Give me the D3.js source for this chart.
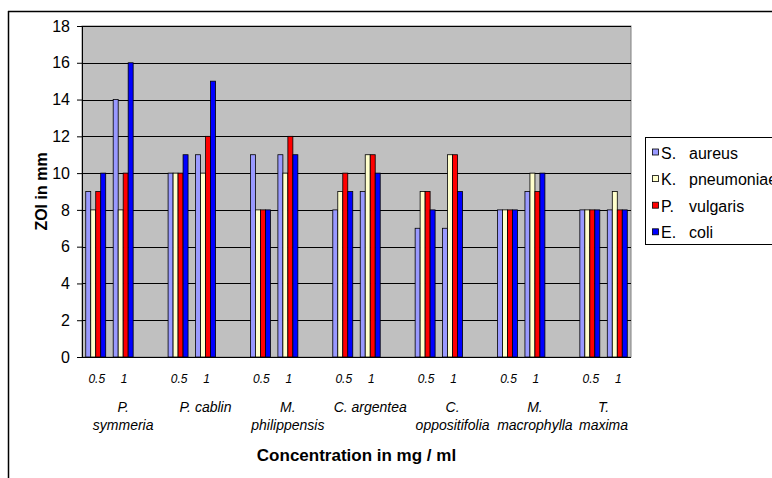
<!DOCTYPE html>
<html><head><meta charset="utf-8">
<script src="https://cdn.jsdelivr.net/npm/d3@7"></script>
<style>
html,body{margin:0;padding:0;background:#fff;overflow:hidden}
text{font-family:"Liberation Sans",Arial,sans-serif}
</style></head>
<body><svg id="c" width="772" height="478"></svg>
<script>
const speciesLabels = [["P.","symmeria"],["P. cablin"],["M.","philippensis"],["C. argentea"],["C.","oppositifolia"],["M.","macrophylla"],["T.","maxima"]];
const concentrations = ["0.5","1"];
const seriesNames = ["S. aureus","K. pneumoniae","P. vulgaris","E. coli"];
const seriesColors = ["#9999FF","#FFFFCC","#FF0000","#0000FF"];
// values in order: species1 0.5, species1 1, species2 0.5, ...
const sAureus     = [9,14,10,11,11,11,8,9,7,7,8,9,8,8];
const kPneumoniae = [8,8,10,10,8,10,9,11,9,11,8,10,8,9];
const pVulgaris   = [9,10,10,12,8,12,10,11,9,11,8,9,8,8];
const eColi       = [10,16,11,15,8,11,9,10,8,9,8,10,8,8];
const yTicks = [0,2,4,6,8,10,12,14,16,18];

const seriesValues = [sAureus,kPneumoniae,pVulgaris,eColi];
const svg = d3.select("#c");
const L=82, R=631, T=26, B=357;

// outer chart border
svg.append("line").attr("x1",8).attr("x2",772).attr("y1",11.5).attr("y2",11.5).attr("stroke","#000").attr("stroke-width",1.5);
svg.append("line").attr("x1",8.5).attr("x2",8.5).attr("y1",11).attr("y2",478).attr("stroke","#000").attr("stroke-width",1.5);

// categories with gap slots between species
const cats=[];
speciesLabels.forEach((s,i)=>{
  concentrations.forEach(c=>cats.push(i+"|"+c));
  if(i<speciesLabels.length-1) cats.push(i+"|gap");
});
const x0 = d3.scaleBand().domain(cats).range([L,R]).padding(0);
const x1 = d3.scaleBand().domain(seriesNames).range([0,x0.bandwidth()]).paddingInner(0).paddingOuter(0.75);
const y = d3.scaleLinear().domain([0,18]).range([B,T]);

// plot area
svg.append("rect").attr("x",L).attr("y",T).attr("width",R-L).attr("height",B-T).attr("fill","#C0C0C0").attr("stroke","#808080").attr("stroke-width",1);

// gridlines
svg.append("g").selectAll("line").data(yTicks.filter(v=>v>0)).join("line")
  .attr("x1",L).attr("x2",R).attr("y1",d=>Math.round(y(d))+0.5).attr("y2",d=>Math.round(y(d))+0.5)
  .attr("stroke","#000").attr("stroke-width",1);

// data rows
const rows=[];
speciesLabels.forEach((s,i)=>concentrations.forEach((c,j)=>{
  const idx=i*2+j;
  seriesNames.forEach((n,k)=>rows.push({cat:i+"|"+c,series:n,k,v:seriesValues[k][idx]}));
}));
svg.append("g").selectAll("rect").data(rows).join("rect")
  .attr("x",d=>x0(d.cat)+x1(d.series))
  .attr("y",d=>y(d.v))
  .attr("width",x1.bandwidth())
  .attr("height",d=>y(0)-y(d.v))
  .attr("fill",d=>seriesColors[d.k])
  .attr("stroke","#000").attr("stroke-width",0.8);

// y axis
const ya = svg.append("g").attr("transform",`translate(${L},0)`)
  .call(d3.axisLeft(y).tickValues(yTicks).tickSize(5).tickPadding(7).tickFormat(d3.format("d")));
ya.select(".domain").attr("stroke","#000");
ya.selectAll("text").attr("font-size",16).attr("fill","#000").style("font-family","Liberation Sans, Arial");
ya.selectAll(".tick line").attr("stroke","#000");

// x axis line
svg.append("line").attr("x1",L).attr("x2",R).attr("y1",B+0.5).attr("y2",B+0.5).attr("stroke","#000");

// concentration labels
const concCats = cats.filter(c=>!c.endsWith("gap"));
svg.append("g").selectAll("text").data(concCats).join("text")
  .attr("x",d=>x0(d)+x0.bandwidth()/2+1).attr("y",383)
  .attr("text-anchor","middle").attr("font-size",12).attr("font-style","italic")
  .text(d=>d.split("|")[1]);

// species labels, centered on the span of their categories
const sp = svg.append("g");
speciesLabels.forEach((lines,i)=>{
  const own = cats.filter(c=>c.startsWith(i+"|"));
  const x_start = x0(own[0]), x_end = x0(own[own.length-1])+x0.bandwidth();
  const cx = (x_start+x_end)/2;
  lines.forEach((t,li)=>{
    sp.append("text").attr("x",cx).attr("y",412+li*17.5).attr("text-anchor","middle")
      .attr("font-size",14).attr("font-style","italic").text(t);
  });
});

// axis titles
svg.append("text").attr("x",(L+R)/2).attr("y",461).attr("text-anchor","middle")
  .attr("font-size",17).attr("font-weight","bold").text("Concentration in mg / ml");
svg.append("text").attr("transform",`translate(47,${(T+B)/2}) rotate(-90)`).attr("text-anchor","middle")
  .attr("font-size",16).attr("font-weight","bold").text("ZOI in mm");

// legend
const lg = svg.append("g");
lg.append("rect").attr("x",645.5).attr("y",137.5).attr("width",200).attr("height",107).attr("fill","#fff").attr("stroke","#000").attr("stroke-width",1);
seriesNames.forEach((n,k)=>{
  const cy = 152.5+k*26.6;
  lg.append("rect").attr("x",652.5).attr("y",cy-3.5).attr("width",6).attr("height",6).attr("fill",seriesColors[k]).attr("stroke","#000").attr("stroke-width",0.8);
  const parts = n.split(" ");
  const t = lg.append("text").attr("y",cy+6).attr("font-size",16);
  t.append("tspan").attr("x",661).text(parts[0]);
  t.append("tspan").attr("x",689).text(parts.slice(1).join(" "));
});
</script></body></html>
